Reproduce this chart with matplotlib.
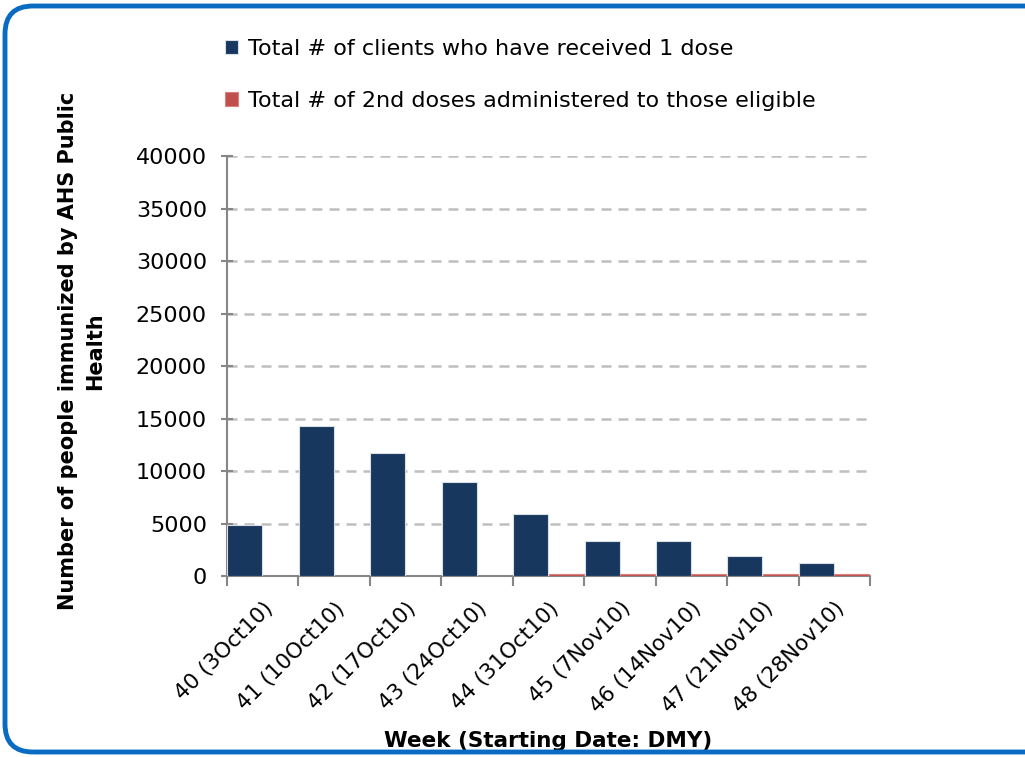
import numpy as np
import matplotlib
matplotlib.use("Agg")
import matplotlib.pyplot as plt
from matplotlib.patches import FancyBboxPatch
from matplotlib.transforms import IdentityTransform

weeks = ["40 (3Oct10)", "41 (10Oct10)", "42 (17Oct10)", "43 (24Oct10)",
         "44 (31Oct10)", "45 (7Nov10)", "46 (14Nov10)", "47 (21Nov10)",
         "48 (28Nov10)"]
first_dose = [4900, 14300, 11700, 9000, 5900, 3300, 3300, 1900, 1250]
second_dose = [0, 0, 0, 0, 220, 220, 220, 220, 220]

label1 = "Total # of clients who have received 1 dose"
label2 = "Total # of 2nd doses administered to those eligible"

plt.rcParams['font.family'] = ['DejaVu Sans']

fig = plt.figure(figsize=(10.25, 7.57), dpi=100)
ax = fig.add_axes([0.2215, 0.2391, 0.6273, 0.5548])

x = np.arange(len(weeks))
b1 = ax.bar(x - 0.25, first_dose, width=0.49, color="#17375E",
            edgecolor="#D9DEE6", linewidth=0.8, zorder=3, label=label1)
b2 = ax.bar(x + 0.245, second_dose, width=0.49, color="#C0504D",
            edgecolor="#D9807E", linewidth=0.8, zorder=3, label=label2)

ax.set_xlim(-0.5, 8.5)
ax.set_ylim(0, 40000)
ax.set_yticks(np.arange(0, 40001, 5000))
ax.set_xticks(np.arange(-0.5, 9.0, 1.0), minor=False)
ax.set_xticklabels([])
ax.set_xticks(x, minor=True)
ax.set_xticklabels(weeks, minor=True, rotation=45, ha="right",
                   rotation_mode="anchor", fontsize=15.5)
ax.tick_params(axis="x", which="minor", length=0, pad=16)
ax.tick_params(axis="x", which="major", length=7, width=1.5,
               color="#868686", direction="out")
ax.tick_params(axis="y", length=9, width=1.5, color="#868686",
               direction="inout", labelsize=16, pad=10)

for gy in np.arange(5000, 40001, 5000):
    ax.axhline(gy, color="#BFBFBF", linewidth=1.8, linestyle=(0, (4, 2.8)),
               zorder=1)

for side in ["top", "right"]:
    ax.spines[side].set_visible(False)
for side in ["left", "bottom"]:
    ax.spines[side].set_color("#868686")
    ax.spines[side].set_linewidth(1.5)

ax.set_ylabel("Number of people immunized by AHS Public\nHealth",
              fontsize=15, fontweight="bold", linespacing=1.4)
ax.yaxis.set_label_coords(-0.19, 0.535)
ax.set_xlabel("Week (Starting Date: DMY)", fontsize=15.5, fontweight="bold")
ax.xaxis.set_label_coords(0.5, -0.37)

fig.legend(handles=[b1, b2], loc="upper left",
           bbox_to_anchor=(0.2, 0.975), frameon=False, fontsize=16,
           handlelength=0.6, handleheight=0.6, handletextpad=0.45,
           labelspacing=1.45)

frame = FancyBboxPatch((5, 5), 1050, 746,
                       boxstyle="round,pad=0,rounding_size=28",
                       transform=IdentityTransform(), facecolor="none",
                       edgecolor="#0A6BC2", linewidth=3.5)
fig.patches.append(frame)

fig.savefig("out.png", dpi=100)
